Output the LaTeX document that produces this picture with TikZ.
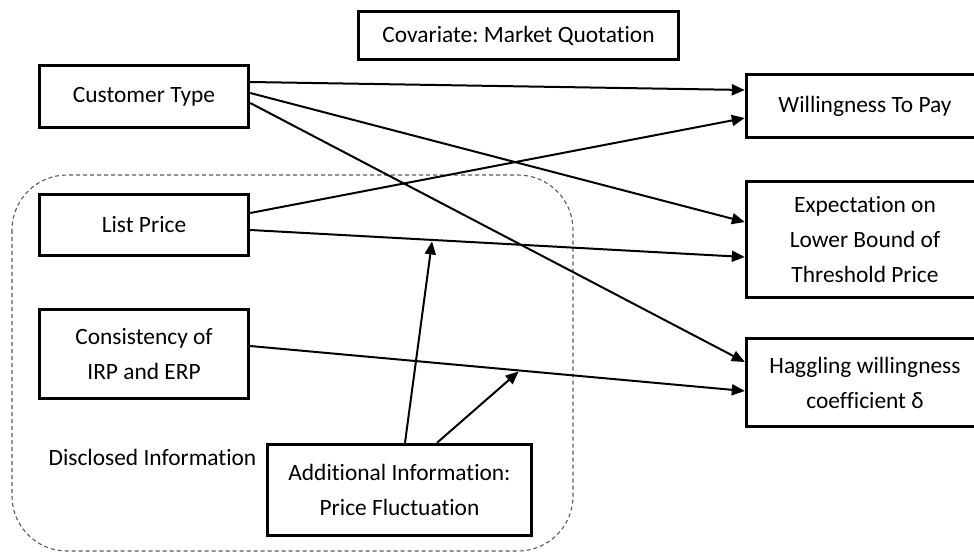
\documentclass[tikz,border=0pt]{standalone}
\usepackage{fontspec}
\setmainfont{Carlito}[Ligatures=NoCommon]
\usetikzlibrary{arrows.meta,calc}
\begin{document}
\frenchspacing
\begin{tikzpicture}[x=1pt,y=-1pt,
  box/.style={draw,line width=3.4pt,inner sep=0pt,align=center,font=\fontsize{23.4}{35}\selectfont\frenchspacing},
  arr/.style={line width=2pt,-{Triangle[length=13pt,width=11pt]}},
  lbl/.style={inner sep=0pt,font=\fontsize{23.4}{35}\selectfont},
  group/.style={dashed,dash pattern=on 4pt off 3pt,black!65,line width=1.1pt,rounded corners=55pt}]
\useasboundingbox (0,0) rectangle (974,553);
\clip (0,0) rectangle (974,553);
% dashed group
\draw[group] (12,175) rectangle (573,551);
\node[lbl] (disc) at (152.5,457) {Disclosed Information};
% nodes
\node[box,minimum width=320,minimum height=48] (cov) at (518.5,35.5) {Covariate: Market Quotation};
\node[box,minimum width=209,minimum height=62] (ct) at (144,96.5) {Customer Type};
\node[box,minimum width=209,minimum height=61] (lp) at (144,225) {List Price};
\node[box,minimum width=209,minimum height=89] (cons) at (144,354) {Consistency of\\IRP and ERP};
\node[box,minimum width=264,minimum height=91] (add) at (399.5,490) {Additional Information:\\Price Fluctuation};
\node[box,minimum width=237,minimum height=63] (wtp) at (865,106) {Willingness To Pay};
\node[box,minimum width=237,minimum height=116] (exp) at (865,239.5) {Expectation on\\Lower Bound of\\Threshold Price};
\node[box,minimum width=237,minimum height=88] (hag) at (865,382.5) {Haggling willingness\\coefficient δ};
% coordinates
\coordinate (lpS) at ($(lp.east)+(0,5)$);
\coordinate (expE) at ($(exp.west)+(0,17.5)$);
\coordinate (consS) at ($(cons.east)+(0,-8)$);
\coordinate (hagE) at ($(hag.west)+(0,8.5)$);
\coordinate (m1) at ($(lpS)!0.368!(expE)$);
\coordinate (m2) at ($(consS)!0.545!(hagE)$);
% arrows
\draw[arr] ($(ct.east)+(0,-14.5)$) -- ($(wtp.west)+(0,-16)$);
\draw[arr] ($(ct.east)+(0,-3.5)$) -- ($(exp.west)+(0,-17.5)$);
\draw[arr] ($(ct.east)+(0,6.5)$) -- ($(hag.west)+(0,-20.5)$);
\draw[arr] ($(lp.east)+(0,-12)$) -- ($(wtp.west)+(0,12)$);
\draw[arr] (lpS) -- (expE);
\draw[arr] (consS) -- (hagE);
\draw[arr,shorten >=1.5pt] ($(add.north)+(5.5,0)$) -- (m1);
\draw[arr,shorten >=1.5pt] ($(add.north)+(37.5,0)$) -- (m2);
\end{tikzpicture}
\end{document}
